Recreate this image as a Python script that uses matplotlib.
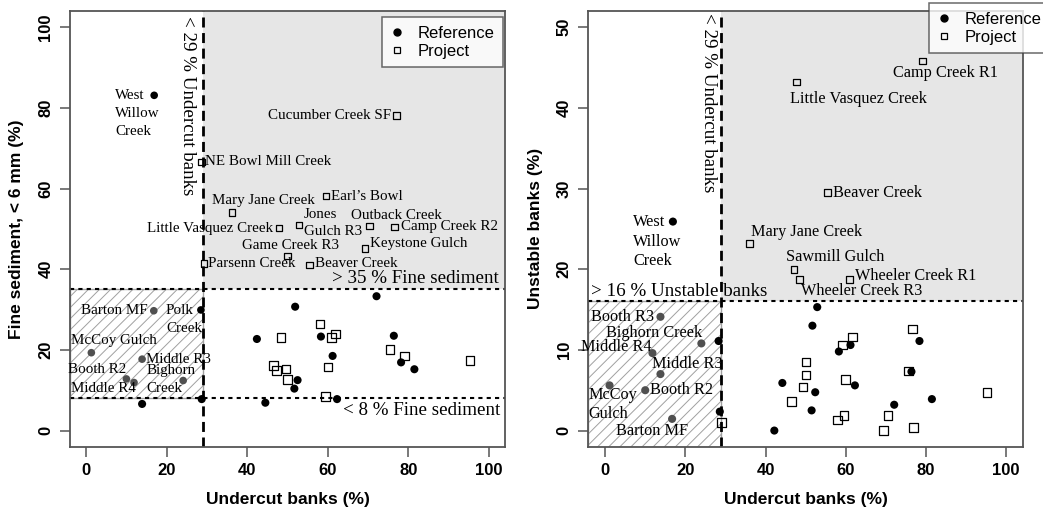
import matplotlib
matplotlib.use("Agg")
import matplotlib.pyplot as plt
import matplotlib.transforms as mtrans
from matplotlib.patches import Rectangle
from matplotlib.lines import Line2D

# ---------------- data ----------------
undercut_thr = 29
fine_hi = 35
fine_lo = 8
unstable_thr = 16

x_ticks = [0, 20, 40, 60, 80, 100]
fine_ticks = [0, 20, 40, 60, 80, 100]
unstable_ticks = [0, 10, 20, 30, 40, 50]

# Left panel: fine sediment vs undercut banks
fs_ref_lab_names = ["West\nWillow\nCreek", "Barton MF", "Polk\nCreek", "McCoy Gulch",
                    "Middle R3", "Booth R2", "Middle R4", "Bighorn\nCreek"]
fs_ref_lab_x = [16.9, 16.8, 28.5, 1.3, 13.9, 10.0, 11.9, 24.1]
fs_ref_lab_y = [83.1, 29.7, 29.9, 19.3, 17.7, 12.8, 11.9, 12.4]

fs_ref_x = [13.9, 28.7, 42.4, 51.9, 44.5, 51.7, 52.5, 58.3, 61.2, 62.3, 72.1, 76.4, 78.2, 81.5]
fs_ref_y = [6.6, 7.8, 22.7, 30.7, 6.9, 10.4, 12.5, 23.3, 18.5, 7.8, 33.3, 23.5, 16.9, 15.2]

fs_prj_lab_names = ["NE Bowl Mill Creek", "Cucumber Creek SF", "Earl\u2019s Bowl", "Mary Jane Creek",
                    "Little Vasquez Creek", "Jones\nGulch R3", "Outback Creek", "Camp Creek R2",
                    "Game Creek R3", "Keystone Gulch", "Parsenn Creek", "Beaver Creek"]
fs_prj_lab_x = [28.6, 77.0, 59.5, 36.2, 47.9, 52.9, 70.4, 76.6, 50.0, 69.3, 29.3, 55.4]
fs_prj_lab_y = [66.6, 78.1, 58.1, 54.1, 50.2, 50.9, 50.7, 50.5, 43.3, 45.1, 41.4, 41.0]

fs_prj_x = [48.4, 46.5, 47.2, 49.6, 50.0, 58.1, 60.9, 61.9, 60.1, 59.4, 75.5, 79.0, 95.3]
fs_prj_y = [23.0, 16.1, 14.9, 15.3, 12.7, 26.4, 23.0, 23.9, 15.8, 8.4, 20.1, 18.5, 17.3]

# Right panel: unstable banks vs undercut banks
ub_ref_lab_names = ["West\nWillow\nCreek", "Booth R3", "Bighorn Creek", "Middle R4", "Middle R3",
                    "McCoy\nGulch", "Booth R2", "Barton MF"]
ub_ref_lab_x = [16.9, 13.8, 24.0, 11.8, 13.8, 1.1, 10.0, 16.7]
ub_ref_lab_y = [25.9, 14.1, 10.8, 9.6, 7.0, 5.6, 5.0, 1.45]

ub_ref_x = [28.3, 28.6, 42.2, 52.9, 51.7, 58.3, 61.2, 78.4, 76.4, 44.2, 52.4, 62.3, 51.5, 72.1, 81.5]
ub_ref_y = [11.1, 2.35, 0.0, 15.3, 13.0, 9.8, 10.6, 11.1, 7.3, 5.9, 4.75, 5.6, 2.5, 3.2, 3.9]

ub_prj_lab_names = ["Camp Creek R1", "Little Vasquez Creek", "Beaver Creek", "Mary Jane Creek",
                    "Sawmill Gulch", "Wheeler Creek R3", "Wheeler Creek R1"]
ub_prj_lab_x = [79.2, 47.7, 55.4, 36.1, 47.1, 48.4, 60.9]
ub_prj_lab_y = [45.8, 43.2, 29.5, 23.2, 20.0, 18.7, 18.7]

ub_prj_x = [29.0, 50.1, 50.1, 49.4, 46.5, 59.2, 61.7, 60.0, 57.9, 59.6, 76.7, 75.6, 70.5, 69.5, 76.9, 95.3]
ub_prj_y = [1.0, 8.5, 6.9, 5.4, 3.6, 10.6, 11.6, 6.3, 1.3, 1.9, 12.6, 7.4, 1.9, 0.0, 0.4, 4.75]

# label placement (offset in pixels from the point to the label block centre, ha)
fs_ref_lab_off = [(-39, -18, "left"), (-6, 0, "right"), (-35, -10, "left"), (23, 12, "center"),
                  (4, 0, "left"), (0, 9, "right"), (2, -6, "right"), (-37, 1, "left")]
fs_prj_lab_off = [(4, 0, "left"), (-5, 0, "right"), (5, 0, "left"), (32, 12, "center"),
                  (-6, 0, "right"), (5, 2, "left"), (27, 11, "center"), (6, 0, "left"),
                  (3, 10, "center"), (5, 5, "left"), (4, 0, "left"), (6, 2, "left")]
ub_ref_lab_off = [(-40, -20, "left"), (-6, 0, "right"), (1, 10, "right"), (-1, 6, "right"),
                  (27, 10, "center"), (-21, -19, "left"), (5, 0, "left"), (-20, -12, "center")]
ub_prj_lab_off = [(23, -12, "center"), (-6, -17, "left"), (6, 0, "left"), (1, 11, "left"),
                  (41, 12, "center"), (2, -11, "left"), (6, 4, "left")]

# ---------------- style ----------------
SERIF = "Liberation Serif"
SANS = "Liberation Sans"
plt.rcParams["hatch.linewidth"] = 0.7
plt.rcParams["hatch.color"] = "#b5b5b5"

fig = plt.figure(figsize=(10.43, 5.13), dpi=100)
axL = fig.add_axes([70 / 1043, 1 - 446.7 / 513, 435 / 1043, 435.7 / 513])
axR = fig.add_axes([588.3 / 1043, 1 - 446.7 / 513, 435 / 1043, 435.7 / 513])

GRAY_FILL = "#e6e6e6"
PT_GRAY = "#505050"
VDASH = (0, (3.6, 2.0))
HDOT = (0, (2, 2))


def style_axes(ax, yticks, ylabel):
    ax.set_xticks(x_ticks)
    ax.set_yticks(yticks)
    for s in ax.spines.values():
        s.set_color("#555555")
        s.set_linewidth(1.3)
    ax.tick_params(axis="both", direction="out", length=7, width=1.1, color="#555555",
                   labelsize=12, pad=5)
    for t in ax.get_xticklabels() + ax.get_yticklabels():
        t.set_fontfamily(SANS)
        t.set_fontweight("bold")
    for t in ax.get_yticklabels():
        t.set_rotation(90)
        t.set_va("center")
    ax.set_xlabel("Undercut banks (%)", fontfamily=SANS, fontweight="bold", fontsize=12.5)
    ax.set_ylabel(ylabel, fontfamily=SANS, fontweight="bold", fontsize=12.5)
    ax.xaxis.set_label_coords(0.5, -0.122)
    ax.xaxis.label.set_va("center")
    ax.yaxis.set_label_coords(-0.122, 0.5)
    ax.yaxis.label.set_va("center")


def label_points(ax, xs, ys, names, offs, size, line_px):
    for x, y, n, (dx, dy, ha) in zip(xs, ys, names, offs):
        lines = n.split("\n")
        k = len(lines)
        for i, line in enumerate(lines):
            ddy = dy + ((k - 1) / 2 - i) * line_px
            ax.annotate(line, (x, y), xytext=(dx, ddy), textcoords="offset pixels",
                        ha=ha, va="center", fontfamily=SERIF, fontsize=size, zorder=6)


def pt_colors(xs, ys, lo, hi):
    return [PT_GRAY if (x < 28.0 and lo < y < hi) else "black" for x, y in zip(xs, ys)]


# ---------------- left panel ----------------
ax = axL
ax.set_xlim(-4, 104)
ax.set_ylim(-4, 104)
ax.add_patch(Rectangle((undercut_thr, fine_hi), 104 - undercut_thr, 104 - fine_hi,
                       facecolor=GRAY_FILL, edgecolor="none", zorder=0))
ax.add_patch(Rectangle((-4, fine_lo), 4 + undercut_thr, fine_hi - fine_lo,
                       facecolor="white", edgecolor="#a0a0a0", hatch="///", lw=1.0, zorder=0.5))
ax.axvline(undercut_thr, color="black", lw=2, ls=VDASH, zorder=2)
ax.axhline(fine_hi, color="black", lw=1.5, ls=HDOT, zorder=2)
ax.axhline(fine_lo, color="black", lw=1.5, ls=HDOT, zorder=2)

ax.scatter(fs_ref_lab_x, fs_ref_lab_y, s=30, c=pt_colors(fs_ref_lab_x, fs_ref_lab_y, fine_lo, fine_hi),
           zorder=5, linewidths=0)
ax.scatter(fs_ref_x, fs_ref_y, s=34, c=pt_colors(fs_ref_x, fs_ref_y, fine_lo, fine_hi),
           zorder=5, linewidths=0)
ax.scatter(fs_prj_lab_x, fs_prj_lab_y, s=22, marker="s", facecolors="none", edgecolors="black",
           linewidths=0.9, zorder=5)
ax.scatter(fs_prj_x, fs_prj_y, s=38, marker="s", facecolors="none", edgecolors="black",
           linewidths=0.9, zorder=5)
label_points(ax, fs_ref_lab_x, fs_ref_lab_y, fs_ref_lab_names, fs_ref_lab_off, 10.8, 18)
label_points(ax, fs_prj_lab_x, fs_prj_lab_y, fs_prj_lab_names, fs_prj_lab_off, 10.8, 17.5)

blend = mtrans.blended_transform_factory(ax.transAxes, ax.transData)
ax.annotate("> 35 % Fine sediment", (1, fine_hi), xycoords=blend, xytext=(-6, 11),
            textcoords="offset pixels", ha="right", va="center", fontfamily=SERIF, fontsize=13.7)
ax.annotate("< 8 % Fine sediment", (1, fine_lo), xycoords=blend, xytext=(-5, -12),
            textcoords="offset pixels", ha="right", va="center", fontfamily=SERIF, fontsize=13.7)
blendv = mtrans.blended_transform_factory(ax.transData, ax.transAxes)
ax.annotate("< 29 % Undercut banks", (undercut_thr, 1), xycoords=blendv, xytext=(-15, -5),
            textcoords="offset pixels", ha="center", va="top", rotation=-90,
            fontfamily=SERIF, fontsize=13.7)
style_axes(ax, fine_ticks, "Fine sediment, < 6 mm (%)")

# ---------------- right panel ----------------
ax = axR
ax.set_xlim(-4.2, 104.3)
ax.set_ylim(-2, 52)
ax.add_patch(Rectangle((undercut_thr, unstable_thr), 105 - undercut_thr, 52 - unstable_thr,
                       facecolor=GRAY_FILL, edgecolor="none", zorder=0))
ax.add_patch(Rectangle((-4.2, -2), 4.2 + undercut_thr, 2 + unstable_thr,
                       facecolor="white", edgecolor="#a0a0a0", hatch="///", lw=1.0, zorder=0.5))
ax.axvline(undercut_thr, color="black", lw=2, ls=VDASH, zorder=2)
ax.axhline(unstable_thr, color="black", lw=1.5, ls=HDOT, zorder=2)

ax.scatter(ub_ref_lab_x, ub_ref_lab_y, s=34, c=pt_colors(ub_ref_lab_x, ub_ref_lab_y, -3, unstable_thr),
           zorder=5, linewidths=0)
ax.scatter(ub_ref_x, ub_ref_y, s=34, c=pt_colors(ub_ref_x, ub_ref_y, -3, unstable_thr),
           zorder=5, linewidths=0)
ax.scatter(ub_prj_lab_x, ub_prj_lab_y, s=24, marker="s", facecolors="none", edgecolors="black",
           linewidths=0.9, zorder=5)
ax.scatter(ub_prj_x, ub_prj_y, s=38, marker="s", facecolors="none", edgecolors="black",
           linewidths=0.9, zorder=5)
label_points(ax, ub_ref_lab_x, ub_ref_lab_y, ub_ref_lab_names, ub_ref_lab_off, 11.7, 19.5)
label_points(ax, ub_prj_lab_x, ub_prj_lab_y, ub_prj_lab_names, ub_prj_lab_off, 11.7, 19.5)

blend = mtrans.blended_transform_factory(ax.transAxes, ax.transData)
ax.annotate("> 16 % Unstable banks", (0, unstable_thr), xycoords=blend, xytext=(3, 10),
            textcoords="offset pixels", ha="left", va="center", fontfamily=SERIF, fontsize=13.7,
            zorder=6)
blendv = mtrans.blended_transform_factory(ax.transData, ax.transAxes)
ax.annotate("< 29 % Undercut banks", (undercut_thr, 1), xycoords=blendv, xytext=(-13, -2),
            textcoords="offset pixels", ha="center", va="top", rotation=-90,
            fontfamily=SERIF, fontsize=13.7)
style_axes(ax, unstable_ticks, "Unstable banks (%)")

# ---------------- legends ----------------
handles = [Line2D([], [], ls="none", marker="o", ms=5, mfc="black", mec="black"),
           Line2D([], [], ls="none", marker="s", ms=5, mfc="none", mec="black", mew=0.9)]
labels = ["Reference", "Project"]
for anchor in [(381.7 / 1043, 1 - 17.3 / 513), (929 / 1043, 1 - 3.3 / 513)]:
    leg = fig.legend(handles, labels, loc="upper left", bbox_to_anchor=anchor,
                     bbox_transform=fig.transFigure, frameon=True, fancybox=False,
                     borderpad=0.5, handlelength=0.8, handletextpad=0.85, labelspacing=0.2,
                     borderaxespad=0, prop={"family": SANS, "size": 12})
    leg.get_frame().set_edgecolor("#444444")
    leg.get_frame().set_linewidth(1.1)

fig.savefig("out.png", dpi=100)
